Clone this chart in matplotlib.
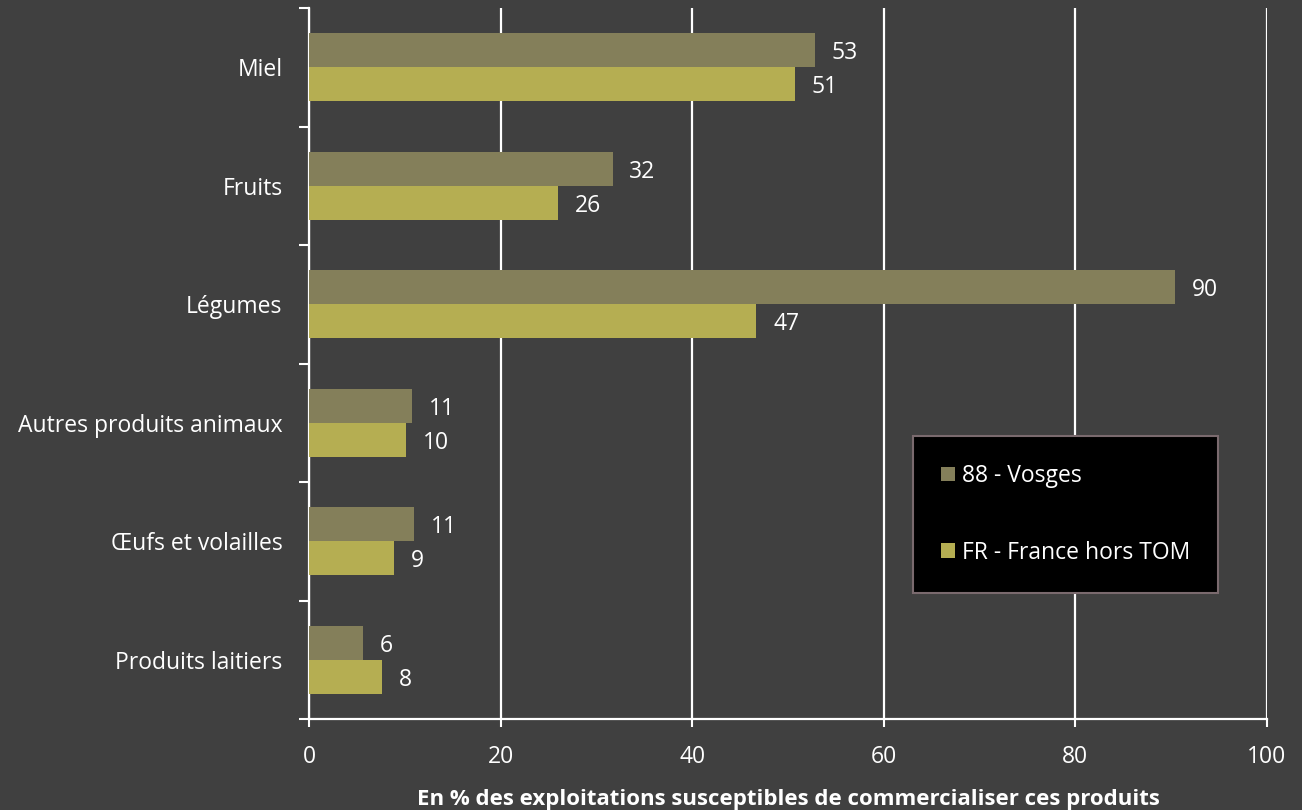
import matplotlib
matplotlib.use("Agg")
import matplotlib.pyplot as plt
import numpy as np
from matplotlib.patches import Patch

categories = ["Miel", "Fruits", "Légumes", "Autres produits animaux", "Œufs et volailles", "Produits laitiers"]
vosges = [52.8, 31.7, 90.4, 10.8, 11.0, 5.6]
france = [50.7, 26.0, 46.7, 10.1, 8.9, 7.6]
series_names = ["88 - Vosges", "FR - France hors TOM"]
xticks = [0, 20, 40, 60, 80, 100]
xlabel = "En % des exploitations susceptibles de commercialiser ces produits"

BG = "#404040"
C_DARK = "#847F5A"
C_LIGHT = "#B5AE52"
FONT = "Open Sans"

plt.rcParams['font.family'] = [FONT, 'DejaVu Sans']

fig = plt.figure(figsize=(13.02, 8.10), dpi=100, facecolor=BG)
ax = fig.add_axes([309/1302, 1-719/810, (1267-309)/1302, (719-8)/810], facecolor=BG)

y = np.arange(len(categories))
h = 0.287
b1 = ax.barh(y - h/2, vosges, height=h, color=C_DARK, zorder=3)
b2 = ax.barh(y + h/2, france, height=h, color=C_LIGHT, zorder=3)

fs = 16.5
for bars, vals in ((b1, vosges), (b2, france)):
    for rect, v in zip(bars, vals):
        ax.annotate(f"{round(v)}", xy=(v, rect.get_y() + rect.get_height()/2),
                    xytext=(12, 0), textcoords="offset points",
                    ha="left", va="center_baseline", color="white", fontsize=fs)

ax.set_xlim(0, 100)
ax.set_ylim(len(categories) - 0.5, -0.5)

ax.set_xticks(xticks)
ax.set_xticklabels([str(t) for t in xticks])
ax.tick_params(axis="x", colors="white", labelcolor="white", labelsize=fs,
               length=6, width=1.5, direction="out", pad=13)
ax.xaxis.grid(True, color="white", linewidth=1.6, zorder=0)
ax.set_axisbelow(True)

ax.set_yticks(np.arange(-0.5, len(categories), 1.0))
ax.set_yticklabels([])
ax.set_yticks(y, minor=True)
ax.set_yticklabels(categories, minor=True)
ax.tick_params(axis="y", which="major", colors="white", length=7, width=1.5, direction="out")
ax.tick_params(axis="y", which="minor", length=0, labelcolor="white", labelsize=fs, pad=19)

for s in ("top", "right"):
    ax.spines[s].set_visible(False)
for s in ("left", "bottom"):
    ax.spines[s].set_color("white")
    ax.spines[s].set_linewidth(1.6)

ax.set_xlabel(xlabel, color="white", fontsize=16, fontweight="bold", labelpad=14)

handles = [Patch(facecolor=C_DARK), Patch(facecolor=C_LIGHT)]
leg = ax.legend(handles, series_names, loc="upper left",
                bbox_to_anchor=((913-309)/958, 1-(436-8)/711),
                fontsize=fs, labelcolor="white", facecolor="black", edgecolor="#7a6a6e",
                framealpha=1, fancybox=False, handlelength=0.6, handleheight=0.6,
                handletextpad=0.3, labelspacing=2.3, borderpad=1.22, borderaxespad=0)
leg.get_frame().set_linewidth(1.5)
leg.set_zorder(5)

fig.savefig("out.png", dpi=100, facecolor=BG)
